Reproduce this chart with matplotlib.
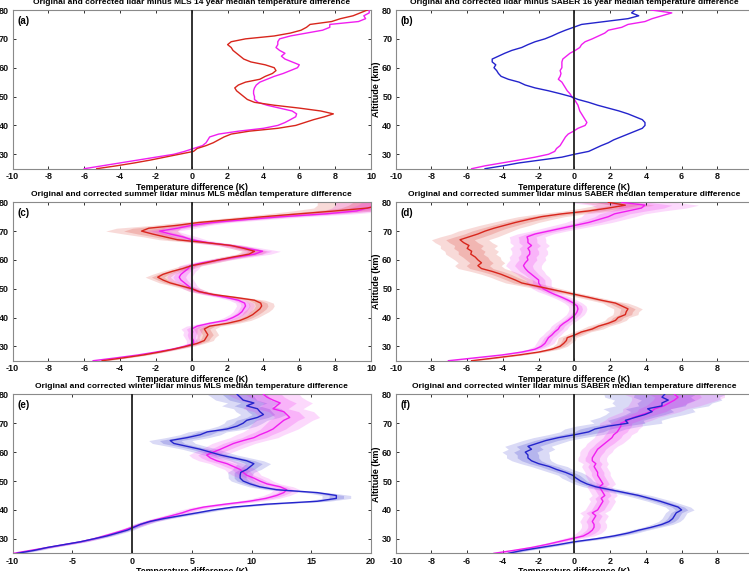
import numpy as np
import matplotlib
matplotlib.use("Agg")
import matplotlib.pyplot as plt

plt.rcParams['font.family'] = ['Liberation Sans', 'DejaVu Sans']
plt.rcParams['font.weight'] = 'bold'
plt.rcParams['axes.unicode_minus'] = False

# altitude grid (km)
alt = np.arange(25, 81)

# (a) lidar - MLS, 14 year median
a_orig = [-5.3, -4.2, -3.2, -2.3, -1.5, -0.7, 0.1, 0.3, 0.8, 1.2,
          1.5, 1.8, 2.2, 3.2, 4.8, 5.8, 6.3, 6.8, 7.4, 7.9,
          7.2, 6.0, 4.6, 3.5, 3.1, 2.9, 2.7, 2.5, 2.4, 2.6,
          3.0, 3.8, 4.1, 4.5, 4.7, 4.6, 4.1, 3.3, 2.9, 2.7,
          2.5, 2.3, 2.2, 2.0, 2.2, 3.0, 4.6, 5.5, 6.1, 6.4,
          6.6, 7.8, 8.3, 9.0, 9.4, 9.8]
a_corr = [-6.0, -5.0, -4.0, -3.0, -2.0, -1.0, -0.4, 0.1, 0.6, 0.8,
          0.9, 1.0, 1.5, 2.6, 4.0, 4.8, 5.2, 5.5, 5.8, 5.85,
          5.6, 4.9, 4.2, 3.7, 3.5, 3.5, 3.45, 3.45, 3.5, 3.6,
          3.8, 4.2, 4.6, 5.1, 5.5, 5.9, 6.0, 5.6, 5.2, 5.0,
          5.2, 4.9, 4.7, 4.8, 4.8, 4.9, 5.5, 6.4, 7.3, 7.7,
          7.7, 9.3, 9.7, 9.6, 9.9, 9.9]

# (b) lidar - SABER, 16 year median
b_orig = [-5.0, -4.0, -3.1, -1.9, -0.7, 0.0, 0.8, 1.15, 1.5, 1.9,
          2.2, 2.6, 3.0, 3.4, 3.8, 3.95, 3.95, 3.8, 3.4, 3.0,
          2.5, 1.9, 1.3, 0.8, 0.2, -0.2, -0.8, -1.45, -2.2, -2.75,
          -3.1, -3.7, -4.1, -4.25, -4.35, -4.5, -4.4, -4.6, -4.6, -4.25,
          -3.9, -3.5, -2.95, -2.6, -2.2, -1.65, -1.25, -0.9, -0.5, -0.05,
          0.4, 1.7, 3.0, 3.6, 3.2, 3.4]
b_corr = [-5.75, -5.0, -4.05, -3.1, -2.2, -1.45, -1.1, -1.0, -0.8, -0.7,
          -0.6, -0.5, -0.35, -0.05, 0.2, 0.6, 0.7, 0.6, 0.5, 0.4,
          0.3, 0.25, 0.2, 0.1, 0.0, -0.15, -0.25, -0.4, -0.5, -0.6,
          -0.7, -0.9, -0.8, -0.75, -0.8, -0.7, -0.7, -0.7, -0.65, -0.45,
          -0.25, 0.05, 0.3, 0.4, 0.6, 1.0, 1.35, 1.7, 1.9, 2.65,
          3.0, 3.95, 4.35, 4.9, 5.45, 4.3]

# (c) summer lidar - MLS
c_orig = [-5.0, -3.8, -2.7, -1.8, -1.0, -0.3, 0.3, 0.7, 0.8, 0.9,
          0.8, 0.7, 1.0, 2.0, 2.7, 3.1, 3.4, 3.6, 3.8, 3.9,
          3.85, 3.5, 2.4, 1.2, 0.4, 0.0, -0.6, -1.2, -1.6, -1.9,
          -1.6, -1.1, -0.5, 0.0, 0.8, 1.5, 2.3, 3.2, 3.5, 2.9,
          2.2, 0.8, -0.8, -1.5, -2.2, -2.8, -2.4, -0.8, 0.4, 2.2,
          4.0, 6.0, 8.0, 9.8, 10.5, 11.0]
c_corr = [-5.5, -4.2, -3.0, -2.0, -1.1, -0.4, 0.1, 0.1, 0.0, 0.0,
          0.05, 0.0, 0.3, 1.0, 1.9, 2.3, 2.6, 2.8, 2.9, 3.0,
          2.95, 2.6, 1.9, 1.1, 0.4, 0.0, -0.2, -0.4, -0.6, -0.7,
          -0.6, -0.4, -0.2, -0.1, 0.6, 1.5, 2.5, 3.5, 3.95, 3.1,
          2.2, 0.9, 0.0, -0.5, -1.2, -1.8, -0.8, 0.0, 1.2, 3.0,
          5.0, 7.5, 9.2, 9.8, 10.5, 11.0]
c_orig_err = [0.3, 0.3, 0.3, 0.3, 0.3, 0.4, 0.4, 0.5, 0.5, 0.6,
              0.6, 0.6, 0.6, 0.6, 0.6, 0.6, 0.6, 0.7, 0.7, 0.7,
              0.7, 0.6, 0.6, 0.5, 0.5, 0.5, 0.5, 0.6, 0.6, 0.7,
              0.6, 0.6, 0.6, 0.6, 0.6, 0.6, 0.7, 0.7, 0.7, 0.7,
              0.7, 0.8, 1.0, 1.2, 1.6, 2.0, 1.8, 1.4, 1.2, 1.2,
              1.4, 1.8, 2.4, 3.0, 3.5, 4.0]
c_corr_err = [0.3, 0.3, 0.3, 0.3, 0.3, 0.3, 0.4, 0.4, 0.4, 0.5,
              0.5, 0.6, 0.6, 0.5, 0.5, 0.5, 0.5, 0.5, 0.5, 0.5,
              0.5, 0.5, 0.5, 0.5, 0.5, 0.5, 0.5, 0.6, 0.7, 0.7,
              0.7, 0.6, 0.6, 0.6, 0.7, 0.7, 0.8, 0.9, 1.0, 0.9,
              0.8, 0.8, 0.8, 0.8, 0.9, 1.0, 1.0, 1.0, 1.0, 1.2,
              1.4, 1.6, 1.8, 2.0, 2.5, 3.0]

# (d) summer lidar - SABER
d_orig = [-5.75, -4.4, -3.1, -2.0, -1.25, -0.8, -0.6, -0.45, -0.4, 0.05,
          0.4, 1.0, 1.35, 1.9, 2.3, 2.45, 2.85, 2.9, 3.0, 2.65,
          2.3, 1.5, 0.8, 0.05, -0.7, -1.45, -2.2, -2.95, -3.3, -3.7,
          -4.1, -4.6, -5.2, -5.4, -5.2, -5.4, -5.55, -5.8, -5.75, -6.0,
          -5.9, -6.2, -6.4, -5.9, -5.4, -5.0, -4.5, -3.9, -3.3, -2.6,
          -1.85, -0.7, 0.8, 1.9, 2.85, 1.9]
d_corr = [-7.05, -5.55, -4.05, -2.95, -2.2, -1.85, -1.65, -1.55, -1.45, -1.25,
          -1.1, -0.9, -0.8, -0.6, -0.35, -0.15, 0.05, 0.15, 0.2, 0.15,
          -0.05, -0.35, -0.7, -1.1, -1.45, -1.75, -1.9, -2.0, -2.0, -2.2,
          -2.4, -2.6, -2.75, -2.85, -2.75, -2.6, -2.65, -2.5, -2.5, -2.6,
          -2.4, -2.6, -2.6, -2.65, -2.2, -1.45, -0.7, 0.05, 0.8, 1.35,
          1.9, 2.25, 3.0, 3.75, 3.95, 2.65]
d_orig_err = [0.3, 0.3, 0.3, 0.3, 0.4, 0.4, 0.4, 0.5, 0.5, 0.5,
              0.5, 0.6, 0.6, 0.6, 0.6, 0.6, 0.7, 0.7, 0.8, 0.8,
              0.7, 0.6, 0.6, 0.6, 0.6, 0.7, 0.8, 0.9, 1.0, 1.0,
              1.1, 1.2, 1.3, 1.3, 1.3, 1.3, 1.4, 1.4, 1.5, 1.5,
              1.6, 1.6, 1.6, 1.6, 1.5, 1.5, 1.4, 1.4, 1.3, 1.3,
              1.3, 1.3, 1.4, 1.5, 1.6, 1.6]
d_corr_err = [0.3, 0.3, 0.3, 0.4, 0.4, 0.4, 0.5, 0.5, 0.5, 0.5,
              0.5, 0.5, 0.5, 0.5, 0.5, 0.5, 0.5, 0.5, 0.5, 0.5,
              0.5, 0.5, 0.5, 0.5, 0.6, 0.6, 0.6, 0.7, 0.7, 0.8,
              0.8, 0.9, 0.9, 1.0, 1.0, 1.0, 1.0, 1.0, 1.0, 1.0,
              1.0, 1.0, 1.0, 1.0, 1.0, 1.0, 1.1, 1.2, 1.3, 1.4,
              1.5, 1.7, 2.0, 2.5, 3.0, 3.0]

# (e) winter lidar - MLS
e_orig = [-9.6, -8.2, -7.1, -5.7, -4.3, -3.2, -2.1, -1.25, -0.4, 0.15,
          0.7, 1.5, 2.65, 4.05, 5.45, 6.8, 8.5, 11.3, 15.5, 17.1,
          17.1, 15.5, 12.1, 10.7, 9.9, 9.3, 9.05, 9.05, 9.1, 9.6,
          9.9, 10.2, 9.6, 8.5, 7.4, 6.55, 5.7, 4.6, 3.5, 3.2,
          4.6, 5.7, 6.3, 7.95, 8.8, 9.3, 9.6, 10.5, 11.0, 10.7,
          10.5, 9.6, 10.2, 9.3, 9.05, 8.8]
e_corr = [-9.9, -8.5, -7.1, -5.7, -4.3, -3.2, -2.35, -1.5, -0.7, 0.0,
          0.7, 1.4, 2.35, 3.3, 4.2, 4.9, 6.0, 7.8, 9.8, 11.2,
          12.1, 12.7, 12.95, 12.4, 11.3, 10.7, 10.2, 9.6, 9.3, 9.05,
          8.5, 7.95, 7.1, 6.55, 6.25, 6.8, 7.4, 7.95, 8.5, 9.3,
          10.2, 10.7, 11.3, 11.8, 12.1, 12.4, 12.7, 13.2, 12.95, 12.7,
          11.8, 12.1, 12.4, 11.8, 11.3, 11.0]
e_orig_err = [0.5, 0.5, 0.5, 0.5, 0.5, 0.5, 0.5, 0.5, 0.5, 0.5,
              0.6, 0.6, 0.6, 0.6, 0.7, 0.7, 0.8, 0.9, 1.0, 1.2,
              1.2, 1.0, 0.9, 0.9, 0.9, 1.0, 1.0, 1.0, 1.1, 1.2,
              1.3, 1.4, 1.4, 1.4, 1.4, 1.4, 1.5, 1.6, 1.8, 1.8,
              1.8, 1.7, 1.6, 1.6, 1.6, 1.6, 1.7, 1.8, 1.9, 2.0,
              2.0, 2.1, 2.2, 2.3, 2.4, 2.5]
e_corr_err = [0.5, 0.5, 0.5, 0.5, 0.5, 0.5, 0.5, 0.5, 0.5, 0.5,
              0.6, 0.6, 0.7, 0.7, 0.8, 0.8, 0.9, 1.0, 1.0, 1.1,
              1.1, 1.1, 1.1, 1.1, 1.1, 1.1, 1.2, 1.2, 1.3, 1.3,
              1.4, 1.4, 1.5, 1.5, 1.5, 1.6, 1.6, 1.7, 1.8, 1.9,
              2.0, 2.0, 2.0, 2.1, 2.2, 2.3, 2.4, 2.5, 2.5, 2.5,
              2.5, 2.6, 2.7, 2.8, 2.9, 3.0]

# (f) winter lidar - SABER
f_orig = [-3.7, -2.9, -1.9, -0.9, 0.0, 1.2, 2.2, 3.0, 3.6, 4.3,
          4.9, 5.3, 5.5, 5.6, 5.7, 6.0, 5.8, 5.3, 4.8, 4.2,
          3.6, 2.8, 2.0, 1.2, 0.7, 0.35, 0.1, -0.1, -0.5, -1.0,
          -1.4, -2.0, -2.4, -2.6, -2.6, -2.75, -2.4, -2.6, -2.1, -1.6,
          -0.9, 0.0, 0.8, 1.15, 1.9, 3.0, 2.85, 3.4, 3.95, 4.35,
          4.1, 4.9, 4.9, 5.25, 4.9, 5.05]
f_corr = [-4.5, -3.4, -2.4, -1.6, -0.9, -0.2, 0.5, 0.8, 1.0, 1.1,
          1.1, 1.0, 1.1, 1.2, 1.0, 1.3, 1.4, 1.5, 1.6, 1.5,
          1.7, 1.6, 1.5, 1.4, 1.6, 1.5, 1.4, 1.3, 1.3, 1.2,
          1.1, 1.2, 1.0, 1.0, 1.1, 1.2, 1.3, 1.5, 1.7, 1.9,
          2.1, 2.2, 2.4, 2.5, 2.6, 2.6, 3.0, 3.3, 3.8, 4.3,
          4.5, 5.0, 5.3, 5.6, 5.8, 5.6]
f_orig_err = [0.4, 0.4, 0.4, 0.4, 0.4, 0.5, 0.5, 0.5, 0.5, 0.5,
              0.6, 0.6, 0.6, 0.6, 0.6, 0.7, 0.7, 0.7, 0.7, 0.7,
              0.7, 0.7, 0.7, 0.7, 0.7, 0.7, 0.8, 0.8, 0.9, 0.9,
              1.0, 1.0, 1.1, 1.2, 1.2, 1.3, 1.3, 1.3, 1.3, 1.3,
              1.4, 1.5, 1.6, 1.7, 1.8, 1.9, 2.0, 2.0, 2.2, 2.4,
              2.5, 2.6, 2.8, 3.0, 3.2, 3.4]
f_corr_err = [0.4, 0.4, 0.4, 0.4, 0.4, 0.5, 0.6, 0.7, 0.7, 0.7,
              0.7, 0.7, 0.7, 0.7, 0.7, 0.7, 0.7, 0.7, 0.7, 0.7,
              0.7, 0.7, 0.7, 0.7, 0.7, 0.7, 0.7, 0.7, 0.7, 0.7,
              0.7, 0.7, 0.8, 0.8, 0.8, 0.9, 0.9, 0.9, 1.0, 1.0,
              1.0, 1.0, 1.1, 1.1, 1.2, 1.2, 1.3, 1.4, 1.5, 1.6,
              1.8, 2.0, 2.2, 2.4, 2.6, 2.8]

titles = ["Original and corrected lidar minus MLS 14 year median temperature difference",
          "Original and corrected lidar minus SABER 16 year median temperature difference",
          "Original and corrected summer lidar minus MLS median temperature difference",
          "Original and corrected summer lidar minus SABER median temperature difference",
          "Original and corrected winter lidar minus MLS median temperature difference",
          "Original and corrected winter lidar minus SABER median temperature difference"]
tags = ["(a)", "(b)", "(c)", "(d)", "(e)", "(f)"]

RED = '#d8261c'
MAG = '#f01ef0'
BLUE = '#2424cc'

W, H = 749, 571
fig = plt.figure(figsize=(W / 100, H / 100), dpi=100)

# axes boxes in pixels: left, top, right, bottom (image is cropped on the right)
boxes = [(12.5, 10, 371, 168.7), (395.7, 10, 753.1, 168.7),
         (12.5, 202.3, 371, 360.7), (395.7, 202.3, 753.1, 360.7),
         (12.5, 394.3, 371, 553.3), (395.7, 394.3, 753.1, 553.3)]

panels = [
    (a_orig, a_corr, None, None, RED, (-10, 10), 2),
    (b_orig, b_corr, None, None, BLUE, (-10, 10), 2),
    (c_orig, c_corr, c_orig_err, c_corr_err, RED, (-10, 10), 2),
    (d_orig, d_corr, d_orig_err, d_corr_err, RED, (-10, 10), 2),
    (e_orig, e_corr, e_orig_err, e_corr_err, BLUE, (-10, 20), 5),
    (f_orig, f_corr, f_orig_err, f_corr_err, BLUE, (-10, 10), 2),
]

for i, (orig, corr, oerr, cerr, ocol, xl, step) in enumerate(panels):
    l, t, r, b = boxes[i]
    ax = fig.add_axes([l / W, 1 - b / H, (r - l) / W, (b - t) / H])
    orig = np.array(orig)
    corr = np.array(corr)
    if oerr is not None:
        for y, e, col in [(orig, np.array(oerr), ocol), (corr, np.array(cerr), MAG)]:
            ax.fill_betweenx(alt, y - e, y + e, color=col, alpha=0.17, lw=0, zorder=1)
            ax.fill_betweenx(alt, y - 0.5 * e, y + 0.5 * e, color=col, alpha=0.2, lw=0, zorder=1)
    ax.plot(corr, alt, color=MAG, lw=1.0, zorder=3)
    ax.plot(orig, alt, color=ocol, lw=1.0, zorder=3)
    ax.axvline(0, color='#222222', lw=1.3, zorder=4)

    ax.set_xlim(*xl)
    ax.set_ylim(25, 80)
    ax.set_xticks(np.arange(xl[0], xl[1] + 1, step))
    ax.set_yticks(np.arange(30, 81, 10))
    ax.tick_params(direction='in', top=True, right=True, length=2.5, width=0.6,
                   labelsize=6.5, pad=2.5, colors='#111111')
    for sp in ax.spines.values():
        sp.set_color('#8a8a8a')
        sp.set_linewidth(0.8)
    ax.set_title(titles[i], fontsize=6.0, fontweight='bold', pad=4.5)
    ax.set_xlabel("Temperature difference (K)", fontsize=6.3, fontweight='bold', labelpad=1)
    ax.set_ylabel("Altitude (km)", fontsize=6.5, fontweight='bold', labelpad=1)
    ax.text(0.013, 0.965, tags[i], transform=ax.transAxes, va='top', ha='left',
            fontsize=7, fontweight='bold')

fig.savefig("out.png", dpi=100)
